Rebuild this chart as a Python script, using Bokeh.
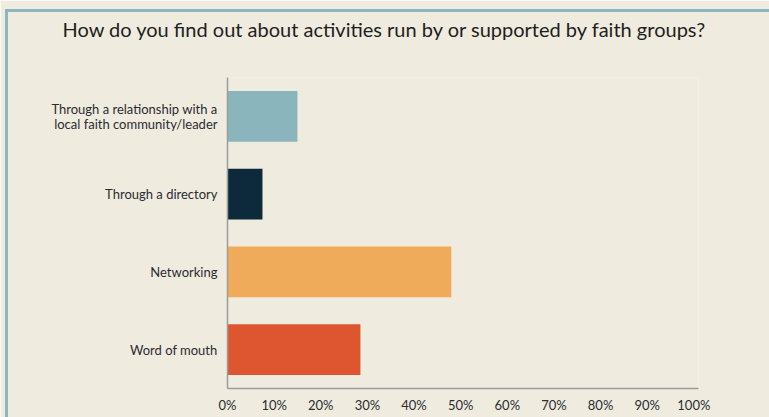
from bokeh.plotting import figure
from bokeh.models import Title, FixedTicker, Range1d, InlineStyleSheet
from bokeh.embed import file_html
from bokeh.resources import INLINE

categories = ["Through a relationship with a\nlocal faith community/leader",
              "Through a directory", "Networking", "Word of mouth"]
values = [15.0, 7.5, 48.0, 28.5]
colors = ["#8ab5bc", "#0c2a3b", "#efab5a", "#dd5630"]
ticks = [0, 10, 20, 30, 40, 50, 60, 70, 80, 90, 100]
tick_labels = [f"{t}%" for t in ticks]
title_text = "How do you find out about activities run by or supported by faith groups?"

BG = "#efebde"
TEAL = "#8bb7bf"
FONT = "Lato"

p = figure(width=769, height=417, output_backend="svg", toolbar_location=None,
           y_range=list(reversed(categories)), x_range=Range1d(0, 101))
p.min_border_left = 227
p.min_border_right = 71
p.min_border_top = 77
p.min_border_bottom = 29
p.background_fill_color = BG
p.border_fill_color = BG
p.outline_line_color = None
p.grid.grid_line_color = None

# trailing blank line lifts the title text within its (centred) box
p.title = Title(text=title_text + "\n ", align="left", offset=-165, standoff=26,
                text_font=FONT, text_font_size="20px", text_font_style="normal",
                text_color="#1e1e1e")

p.hbar(y=categories, right=values, left=0, height=0.65, fill_color=colors, line_color=None)

for ax in (p.xaxis[0], p.yaxis[0]):
    ax.axis_line_color = "#9c9c9c"
    ax.axis_line_width = 1.5
    ax.major_tick_line_color = None
    ax.minor_tick_line_color = None
    ax.major_tick_out = 0
    ax.major_tick_in = 0
    ax.minor_tick_out = 0
    ax.major_label_text_font = FONT
    ax.major_label_text_color = "#2b2b33"
    ax.major_label_text_font_size = "13px"

p.xaxis.ticker = FixedTicker(ticks=ticks)
p.xaxis.major_label_overrides = dict(zip(ticks, tick_labels))
p.xaxis.major_label_standoff = 8
p.yaxis.major_label_standoff = 10
p.yaxis.major_label_text_line_height = 0.95

p.stylesheets = [InlineStyleSheet(css=f"""
:host {{ position: relative; }}
:host::after {{
  content: "";
  position: absolute;
  left: 5px; top: 9px; right: -20px; bottom: -20px;
  border-top: 3px solid {TEAL};
  border-left: 3px solid {TEAL};
  pointer-events: none;
  z-index: 10;
}}
""")]

open("out.html", "w").write(file_html(p, INLINE))
